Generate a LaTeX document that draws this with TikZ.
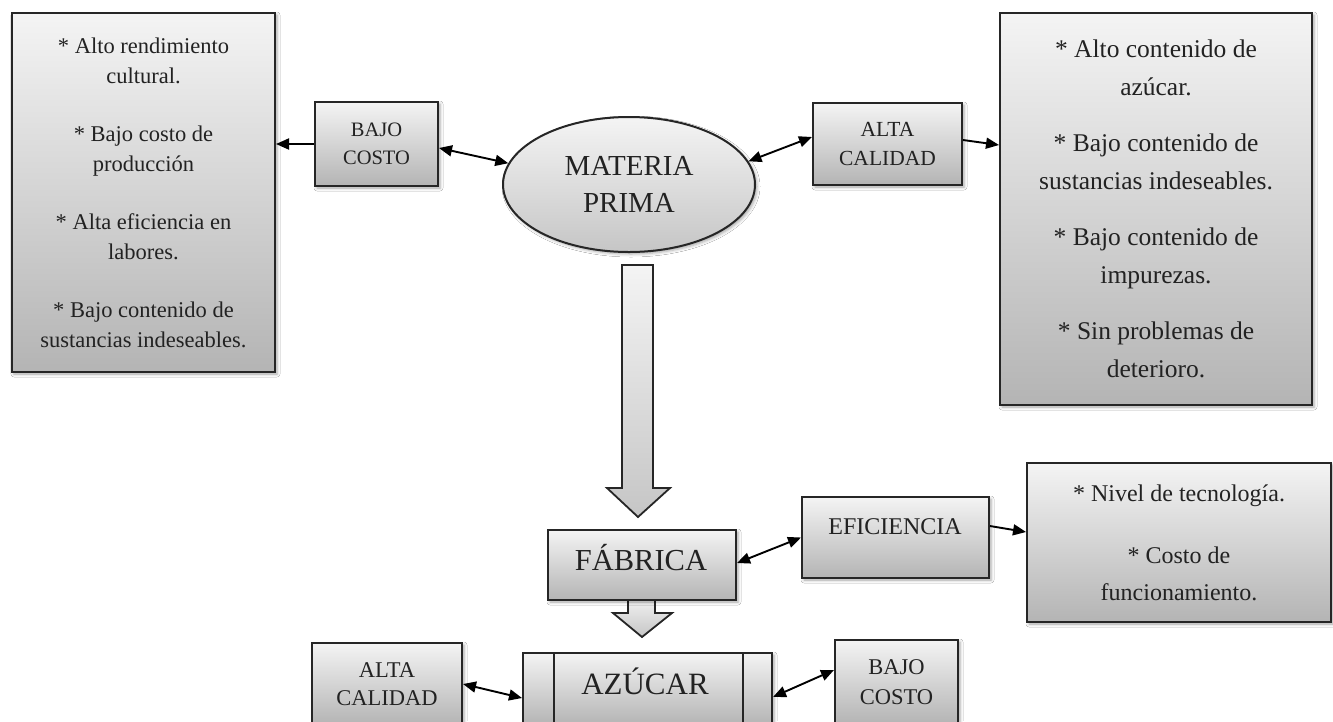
\documentclass[tikz,border=0pt]{standalone}
\usepackage{fontspec}
\setmainfont{Liberation Serif}
\usetikzlibrary{arrows.meta,shapes.geometric,shadows.blur}

\definecolor{edge}{HTML}{262626}
\definecolor{ink}{HTML}{222222}
\definecolor{shadeTop}{HTML}{F4F4F4}
\definecolor{shadeBot}{HTML}{B4B4B4}

\tikzset{
  panel/.style={draw=edge, line width=2pt, top color=shadeTop, bottom color=shadeBot,
    inner sep=0pt, align=center, text=ink,
    blur shadow={shadow xshift=2pt, shadow yshift=-2pt, shadow blur radius=3pt, shadow opacity=35}},
  oval/.style={panel, ellipse, top color=shadeTop, bottom color=gray!45},
  txt/.style={text=ink, inner sep=0pt, align=center},
  tipshape/.tip={Triangle[length=13pt,width=11pt]},
  link/.style={draw=black, line width=1.9pt, -tipshape},
  both/.style={draw=black, line width=1.9pt, tipshape-tipshape},
  blockarrow/.style={draw=edge, line width=1.8pt, top color=shadeTop, bottom color=gray!45, line join=miter},
  fs/.style n args={2}{font={\fontsize{#1}{#2}\selectfont}}
}

\begin{document}
\begin{tikzpicture}[x=1pt, y=-1pt]
  \useasboundingbox (0,0) rectangle (1333,721);
  \clip (0,0) rectangle (1333,721);
  \fill[white] (0,0) rectangle (1333,721);

  % flow arrows between the main stages
  \draw[blockarrow] (622,265) -- (653,265) -- (653,488) -- (670,488) -- (638,517)
        -- (607,488) -- (622,488) -- cycle;
  \draw[blockarrow] (628,596) -- (655,596) -- (655,613) -- (672,613) -- (642,637)
        -- (613,613) -- (628,613) -- cycle;

  % raw material level
  \node[panel, fs={22.5}{30}, minimum width=263pt, minimum height=359pt] (lbox) at (143.5,192.5)
    {* Alto rendimiento\\cultural.\\[28pt]* Bajo costo de\\producción\\[28pt]* Alta eficiencia en\\labores.\\[28pt]* Bajo contenido de\\sustancias indeseables.};
  \node[panel, fs={20.5}{28}, minimum width=123pt, minimum height=84pt] (bc1) at (376.5,144) {BAJO\\COSTO};
  \node[oval, fs={29}{37}, minimum width=252pt, minimum height=135pt] (mp) at (629,184.5) {MATERIA\\PRIMA};
  \node[panel, fs={21.5}{29}, minimum width=149pt, minimum height=82pt] (ac1) at (887.5,144) {ALTA\\CALIDAD};
  \node[panel, fs={25.5}{38}, minimum width=312pt, minimum height=392pt] (rbox) at (1156,209)
    {* Alto contenido de\\azúcar.\\[18pt]* Bajo contenido de\\sustancias indeseables.\\[18pt]* Bajo contenido de\\impurezas.\\[18pt]* Sin problemas de\\deterioro.};

  % factory level
  \node[panel, minimum width=188pt, minimum height=70pt] (fab) at (642,565) {};
  \node[txt, fs={30.5}{36}] (fabtxt) at (641,558) {FÁBRICA};
  \node[panel, minimum width=187pt, minimum height=81pt] (efi) at (895.5,537.5) {};
  \node[txt, fs={24}{30}] (efitxt) at (895,527) {EFICIENCIA};
  \node[panel, fs={24}{37}, minimum width=304pt, minimum height=159pt] (rb2) at (1179,542.5)
    {* Nivel de tecnología.\\[25pt]* Costo de\\funcionamiento.};

  % sugar level
  \node[panel, fs={22.5}{28}, minimum width=150pt, minimum height=82pt] (ac2) at (387,684) {ALTA\\CALIDAD};
  \node[panel, minimum width=249pt, minimum height=72pt] (azu) at (647.5,689) {};
  \draw[draw=edge, line width=2pt] ([xshift=32pt]azu.north west) -- ([xshift=32pt]azu.south west);
  \draw[draw=edge, line width=2pt] ([xshift=-30pt]azu.north east) -- ([xshift=-30pt]azu.south east);
  \node[txt, fs={31}{36}] (azutxt) at (645,681) {AZÚCAR};
  \node[panel, fs={22.5}{30}, minimum width=123pt, minimum height=84pt] (bc2) at (896.5,682) {BAJO\\COSTO};

  % connectors
  \draw[link] (bc1.west) -- (bc1.west -| lbox.east);
  \draw[both] ([yshift=-4pt]bc1.east) -- (mp.170);
  \draw[both] (mp.11) -- ([yshift=7pt]ac1.west);
  \draw[link] ([yshift=4pt]ac1.east) -- ([yshift=64pt]rbox.west);
  \draw[both] ([yshift=2pt]fab.east) -- (efi.west);
  \draw[link] ([yshift=11.5pt]efi.east) -- ([yshift=10.5pt]rb2.west);
  \draw[both] (ac2.east) -- ([yshift=-9pt]azu.west);
  \draw[both] ([yshift=-8pt]azu.east) -- ([yshift=12pt]bc2.west);
\end{tikzpicture}
\end{document}
